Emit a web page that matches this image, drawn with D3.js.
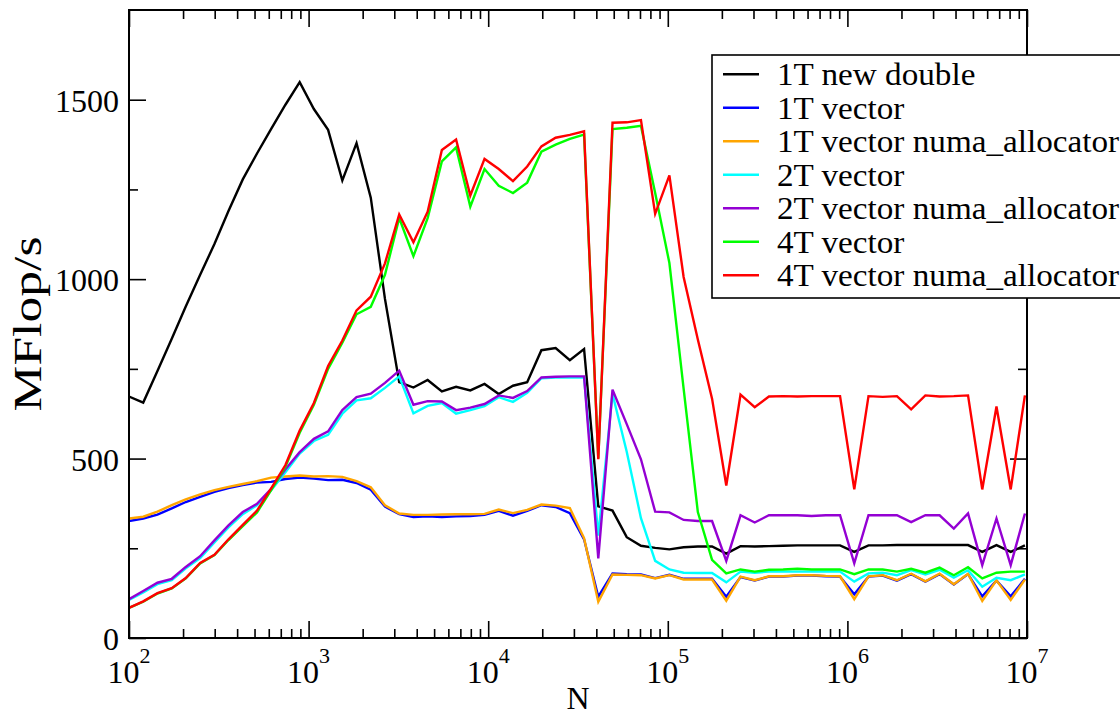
<!DOCTYPE html>
<html>
<head>
<meta charset="utf-8">
<script src="https://cdn.jsdelivr.net/npm/d3@7/dist/d3.min.js"></script>
<style>
  html, body { margin: 0; padding: 0; background: #fff; }
  svg { display: block; }
</style>
</head>
<body>
<svg id="chart" width="1120" height="717"></svg>
<script>
// ---- data ----
const N = [100, 120, 144, 173, 207, 249, 299, 358, 430, 516, 619, 743, 892, 1070, 1284, 1541,
  1849, 2219, 2662, 3195, 3834, 4601, 5521, 6625, 7950, 9540, 11448, 13737, 16484, 19781,
  23738, 28485, 34182, 41019, 49222, 59067, 70880, 85056, 102067, 122481, 146977, 176373,
  211647, 253977, 304772, 365726, 438871, 526646, 631975, 758370, 910044, 1092053, 1310463,
  1572556, 1887067, 2264480, 2717376, 3260852, 3913022, 4695626, 5634751, 6761702, 8114042, 9736851];

const s1T_new_double = [673, 656, 744, 834, 924, 1012, 1098, 1190, 1278, 1350, 1419, 1486, 1549, 1474, 1416, 1275,
  1379, 1227, 945, 713, 698, 719, 687, 700, 690, 708, 680, 703, 713, 802,
  808, 774, 805, 367, 355, 281, 257, 251, 247, 253, 255, 255,
  235, 256, 255, 256, 257, 258, 258, 258, 258, 240, 258,
  258, 259, 259, 259, 259, 259, 259, 240, 259, 240, 258];

const s1T_vector = [326, 333, 344, 361, 379, 393, 407, 418, 426, 433, 435, 443, 447, 444, 440, 441,
  432, 413, 366, 345, 337, 339, 337, 339, 340, 343, 354, 341, 354, 370,
  365, 348, 275, 115, 180, 178, 177, 167, 176, 165, 165, 165,
  115, 170, 160, 171, 171, 174, 174, 172, 171, 122, 171,
  174, 160, 178, 157, 178, 149, 178, 116, 160, 116, 165];

const s1T_vector_numa = [333, 338, 352, 370, 386, 400, 412, 421, 429, 437, 447, 450, 453, 450, 451, 449,
  437, 420, 370, 347, 343, 343, 344, 345, 345, 346, 358, 348, 357, 372,
  369, 362, 278, 101, 177, 176, 175, 166, 175, 163, 163, 163,
  104, 171, 161, 172, 172, 175, 175, 173, 172, 108, 172,
  175, 161, 179, 158, 179, 150, 179, 103, 161, 106, 163];

const s2T_vector = [106, 127, 150, 161, 194, 223, 266, 308, 345, 370, 412, 462, 514, 549, 566, 625,
  662, 668, 697, 729, 626, 647, 655, 625, 635, 646, 671, 658, 683, 724,
  726, 726, 726, 285, 680, 519, 334, 215, 191, 182, 181, 181,
  155, 185, 182, 185, 185, 185, 185, 185, 185, 157, 180,
  182, 175, 189, 177, 190, 168, 189, 143, 168, 161, 177];

const s2T_vector_numa = [108, 131, 154, 165, 198, 228, 272, 314, 351, 374, 416, 470, 518, 555, 576, 635,
  671, 681, 711, 745, 650, 660, 659, 635, 642, 652, 676, 669, 688, 726,
  728, 729, 729, 222, 692, 596, 498, 352, 350, 329, 326, 326,
  215, 342, 322, 342, 342, 342, 340, 342, 342, 208, 342,
  342, 342, 323, 342, 342, 305, 347, 203, 333, 203, 347];

const s4T_vector = [84, 101, 124, 138, 166, 208, 231, 273, 312, 350, 412, 477, 572, 650, 750, 823,
  902, 923, 1012, 1170, 1064, 1170, 1328, 1367, 1202, 1307, 1260, 1240, 1269, 1355,
  1375, 1391, 1403, 500, 1418, 1422, 1427, 1240, 1045, 695, 351, 218,
  180, 191, 185, 190, 191, 193, 191, 191, 191, 178, 191,
  191, 185, 193, 182, 196, 175, 197, 166, 182, 185, 185];

const s4T_vector_numa = [84, 102, 125, 139, 167, 209, 232, 275, 315, 355, 417, 482, 578, 655, 758, 829,
  913, 951, 1044, 1180, 1103, 1188, 1360, 1389, 1233, 1335, 1307, 1273, 1314, 1370,
  1394, 1402, 1412, 498, 1436, 1437, 1443, 1182, 1289, 1006, 832, 667,
  425, 678, 643, 673, 674, 673, 674, 674, 674, 414, 674,
  672, 674, 637, 676, 673, 674, 676, 414, 645, 414, 676];

const seriesNames = ["1T new double", "1T vector", "1T vector numa_allocator", "2T vector",
  "2T vector numa_allocator", "4T vector", "4T vector numa_allocator"];
const seriesColors = ["#000000", "#0000ff", "#ffa500", "#00ffff", "#9400d3", "#00ff00", "#ff0000"];
const seriesValues = [s1T_new_double, s1T_vector, s1T_vector_numa, s2T_vector, s2T_vector_numa, s4T_vector, s4T_vector_numa];

const xMajor = [1e2, 1e3, 1e4, 1e5, 1e6, 1e7];
const xMajorExp = ["2", "3", "4", "5", "6", "7"];
const yMajor = [0, 500, 1000, 1500];
const yMinor = [250, 750, 1250];
const yDomain = [0, 1750];
const xLabel = "N";
const yLabel = "MFlop/s";

// ---- layout ----
const FONT = "'Liberation Serif', 'Times New Roman', Times, 'Nimbus Roman', 'DejaVu Serif', serif";
const L = 129, R = 1027, T = 10, B = 638;
const svg = d3.select("#chart");
svg.append("rect").attr("width", 1120).attr("height", 717).attr("fill", "#fff");

const x = d3.scaleLog().domain([1e2, 1e7]).range([L, R]);
const y = d3.scaleLinear().domain(yDomain).range([B, T]);

const xMinor = [];
for (let e = 2; e < 7; e++) for (let m = 2; m <= 9; m++) xMinor.push(m * Math.pow(10, e));

function styleAxis(g) {
  g.select(".domain").remove();
  g.attr("font-family", null).attr("font-size", null);
  g.selectAll(".tick line").attr("stroke", "#000").attr("stroke-width", 1.6);
}

// bottom
svg.append("g").attr("transform", `translate(0,${B})`)
  .call(d3.axisBottom(x).tickValues(xMajor).tickSize(-17).tickFormat(""))
  .call(styleAxis);
svg.append("g").attr("transform", `translate(0,${B})`)
  .call(d3.axisBottom(x).tickValues(xMinor).tickSize(-9).tickFormat(""))
  .call(styleAxis);
// top
svg.append("g").attr("transform", `translate(0,${T})`)
  .call(d3.axisTop(x).tickValues(xMajor).tickSize(-17).tickFormat(""))
  .call(styleAxis);
svg.append("g").attr("transform", `translate(0,${T})`)
  .call(d3.axisTop(x).tickValues(xMinor).tickSize(-9).tickFormat(""))
  .call(styleAxis);
// left
svg.append("g").attr("transform", `translate(${L},0)`)
  .call(d3.axisLeft(y).tickValues(yMajor).tickSize(-17).tickPadding(10).tickFormat(d3.format("d")))
  .call(styleAxis)
  .call(g => g.selectAll(".tick text").attr("font-size", 32).attr("font-family", FONT)
    .style("font-family", FONT).attr("fill", "#000").attr("dy", "0.36em"));
svg.append("g").attr("transform", `translate(${L},0)`)
  .call(d3.axisLeft(y).tickValues(yMinor).tickSize(-9).tickFormat(""))
  .call(styleAxis);
// right
svg.append("g").attr("transform", `translate(${R},0)`)
  .call(d3.axisRight(y).tickValues(yMajor).tickSize(-17).tickFormat(""))
  .call(styleAxis);
svg.append("g").attr("transform", `translate(${R},0)`)
  .call(d3.axisRight(y).tickValues(yMinor).tickSize(-9).tickFormat(""))
  .call(styleAxis);

// x labels 10^k
const xl = svg.append("g");
xMajor.forEach((v, i) => {
  const t = xl.append("text").attr("x", x(v)).attr("y", 683).attr("text-anchor", "middle")
    .attr("font-size", 32).style("font-family", FONT);
  t.append("tspan").text("10");
  t.append("tspan").attr("dy", -20).attr("font-size", 22).text(xMajorExp[i]);
});

// lines
const line = d3.line().x((d, i) => x(N[i])).y(d => y(d));
svg.append("clipPath").attr("id", "clip").append("rect")
  .attr("x", L).attr("y", T).attr("width", R - L).attr("height", B - T);
const lg = svg.append("g").attr("clip-path", "url(#clip)");
seriesValues.forEach((vals, k) => {
  lg.append("path").datum(vals).attr("d", line)
    .attr("fill", "none").attr("stroke", seriesColors[k]).attr("stroke-width", 2.4)
    .attr("stroke-linejoin", "miter").attr("stroke-miterlimit", 4);
});

// frame
svg.append("rect").attr("x", L).attr("y", T).attr("width", R - L).attr("height", B - T)
  .attr("fill", "none").attr("stroke", "#000").attr("stroke-width", 2);

// axis titles
svg.append("text").attr("x", (L + R) / 2).attr("y", 709).attr("text-anchor", "middle")
  .attr("font-size", 32).style("font-family", FONT).text(xLabel);
svg.append("text").attr("transform", `translate(41,${(T + B) / 2}) rotate(-90)`)
  .attr("text-anchor", "middle").attr("font-size", 41).style("font-family", FONT)
  .attr("textLength", 175).attr("lengthAdjust", "spacingAndGlyphs").text(yLabel);

// legend
const leg = svg.append("g");
leg.append("rect").attr("x", 712).attr("y", 55).attr("width", 460).attr("height", 243)
  .attr("fill", "#fff").attr("stroke", "#000").attr("stroke-width", 1.6);
seriesNames.forEach((name, k) => {
  const ry = 74.3 + k * 33.5;
  leg.append("line").attr("x1", 723).attr("x2", 759).attr("y1", ry).attr("y2", ry)
    .attr("stroke", seriesColors[k]).attr("stroke-width", 2.4);
  const t = leg.append("text").attr("x", 777).attr("y", ry + 11).attr("font-size", 31)
    .style("font-family", FONT).text(name);
  const w = t.node().getComputedTextLength();
  t.attr("textLength", w * 1.07).attr("lengthAdjust", "spacingAndGlyphs");
});
</script>
</body>
</html>
